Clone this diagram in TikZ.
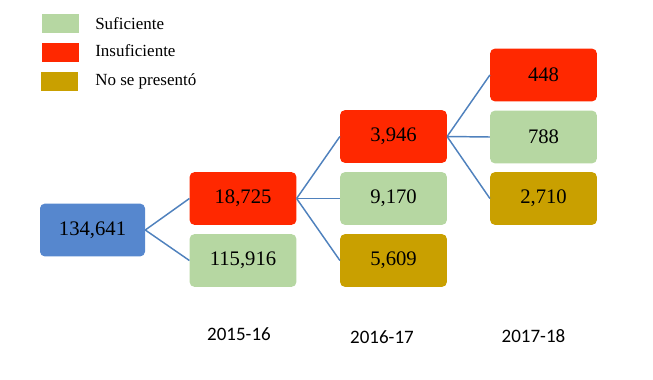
\documentclass[tikz,border=0pt]{standalone}
\usepackage{fontspec}
\setmainfont{Liberation Serif}
\newfontfamily\yearfont{Carlito}
\definecolor{cblue}{RGB}{86,135,206}
\definecolor{cred}{RGB}{255,40,0}
\definecolor{cgreen}{RGB}{182,215,162}
\definecolor{cgold}{RGB}{201,160,0}
\definecolor{cline}{RGB}{79,129,189}
\tikzset{
  box/.style={rounded corners=3.5pt, minimum width=80pt, minimum height=39.5pt, inner sep=0pt, font=\fontsize{15.5}{17}\selectfont},
  bigbox/.style={box, minimum width=78.75pt},
  swatch/.style={inner sep=0pt, minimum width=27.75pt, minimum height=14.25pt},
  legtext/.style={anchor=west, inner sep=0pt, font=\fontsize{12.75}{15}\selectfont},
  yeartext/.style={inner sep=0pt, font=\yearfont\fontsize{14.25}{17}\selectfont},
  conn/.style={draw=cline, line width=1.1pt}
}
\begin{document}
\begin{tikzpicture}[x=0.75pt, y=-0.75pt]
\useasboundingbox (0,0) rectangle (653,379);
% legend
\node[swatch, fill=cgreen] (sg) at (60.5,23.5) {};
\node[swatch, fill=cred] (sr) at (60.5,52) {};
\node[swatch, fill=cgold] (sy) at (59,81.5) {};
\node[legtext] (lg) at (95,24) {Suficiente};
\node[legtext] (lr) at (95,50.5) {Insuficiente};
\node[legtext] (ly) at (95,81) {No se presentó};
% boxes
\node[bigbox, fill=cblue] (a) at (92.5,230) {134,641};
\node[box, fill=cred] (b1) at (243,198.5) {18,725};
\node[box, fill=cgreen] (b2) at (243,260.5) {115,916};
\node[box, fill=cred] (c1) at (393.5,136.5) {3,946};
\node[box, fill=cgreen] (c2) at (393.5,198.5) {9,170};
\node[box, fill=cgold] (c3) at (393.5,260.5) {5,609};
\node[box, fill=cred] (d1) at (543.5,75) {448};
\node[box, fill=cgreen] (d2) at (543.5,137) {788};
\node[box, fill=cgold] (d3) at (543.5,198.5) {2,710};
% connectors
\draw[conn] (a.east) -- (b1.west);
\draw[conn] (a.east) -- (b2.west);
\draw[conn] (b1.east) -- (c1.west);
\draw[conn] (b1.east) -- (c2.west);
\draw[conn] (b1.east) -- (c3.west);
\draw[conn] (c1.east) -- (d1.west);
\draw[conn] (c1.east) -- (d2.west);
\draw[conn] (c1.east) -- (d3.west);
% years
\node[yeartext] (y1) at (239,334) {2015-16};
\node[yeartext] (y2) at (382,337) {2016-17};
\node[yeartext] (y3) at (533.5,336) {2017-18};
\end{tikzpicture}
\end{document}
